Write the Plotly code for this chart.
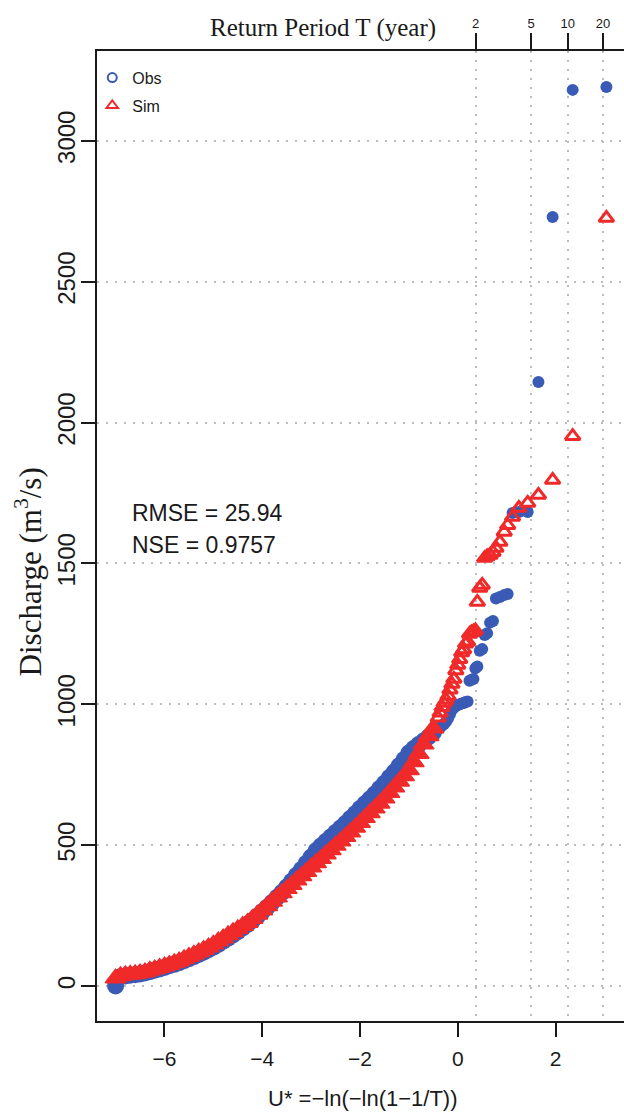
import numpy as np
import plotly.graph_objects as go

# Gumbel reduced variate U* = -ln(-ln(1-1/T)) for each ranked discharge
u_star = [
    -7.0, -6.9, -6.8, -6.7, -6.6, -6.5, -6.4, -6.3, -6.2, -6.1,
    -6.0, -5.9, -5.8, -5.7, -5.6, -5.5, -5.4, -5.3, -5.2, -5.1,
    -5.0, -4.9, -4.8, -4.7, -4.6, -4.5, -4.4, -4.3, -4.2, -4.1,
    -4.0, -3.9, -3.8, -3.7, -3.6, -3.5, -3.4, -3.3, -3.2, -3.1,
    -3.0, -2.9, -2.8, -2.7, -2.6, -2.5, -2.4, -2.3, -2.2, -2.1,
    -2.0, -1.9, -1.8, -1.7, -1.6, -1.5, -1.4, -1.3, -1.2, -1.1,
    -1.0, -0.9, -0.8, -0.7, -0.6, -0.5,
    -0.40, -0.36, -0.32, -0.28, -0.24, -0.20, -0.16, -0.12, -0.08, -0.04,
    0.00, 0.04, 0.08, 0.12, 0.16, 0.20, 0.24, 0.28, 0.32, 0.36, 0.40,
    0.45, 0.50, 0.55, 0.60, 0.66, 0.72, 0.78, 0.86, 0.95, 1.02,
    1.12, 1.25, 1.43, 1.65, 1.94, 2.35, 3.04,
]

# Observed discharge (m3/s)
q_obs = [
    0, 33, 36, 38, 40, 43, 46, 51, 56, 61,
    66, 72, 77, 83, 90, 97, 104, 112, 120, 129,
    138, 148, 159, 170, 181, 193, 206, 219, 233, 248,
    264, 280, 297, 314, 332, 352, 372, 393, 414, 436,
    458, 480, 497, 513, 529, 545, 561, 577, 595, 612,
    630, 647, 664, 682, 701, 720, 740, 760, 782, 804,
    827, 843, 857, 870, 884, 900,
    912, 918, 925, 930, 938, 950, 965, 980, 988, 994,
    998, 1000, 1003, 1005, 1008, 1010, 1084, 1087, 1090, 1128, 1134,
    1190, 1196, 1246, 1252, 1290, 1296, 1376, 1381, 1388, 1392,
    1679, 1683, 1683, 2144, 2730, 3181, 3191,
]

# Simulated discharge (m3/s)
q_sim = [
    28, 36, 39, 41, 43, 46, 49, 55, 60, 65,
    70, 76, 82, 88, 96, 104, 112, 120, 129, 138,
    148, 159, 170, 181, 192, 203, 214, 225, 239, 254,
    269, 284, 300, 315, 330, 345, 360, 376, 391, 406,
    422, 437, 452, 468, 483, 499, 514, 530, 546, 563,
    580, 597, 614, 631, 648, 667, 686, 706, 726, 746,
    767, 795, 825, 858, 888, 915,
    952, 970, 990, 1005, 1015, 1030, 1052, 1072, 1090, 1120,
    1140, 1160, 1184, 1195, 1215, 1222, 1250, 1255, 1258, 1262, 1363,
    1413, 1424, 1519, 1525, 1530, 1540, 1555, 1576, 1612, 1636,
    1665, 1697, 1715, 1743, 1796, 1952, 2726,
]

return_periods = [2, 5, 10, 20]
return_labels = ["2", "5", "10", "20"]
x_ticks = [-6, -4, -2, 0, 2]
y_ticks = [0, 500, 1000, 1500, 2000, 2500, 3000]

stats_lines = ["RMSE = 25.94", "NSE = 0.9757"]

BLUE = "#3A5BB5"
RED = "#F02A2A"
INK = "#1a1a1a"
GRID = "#bdbdbd"
SANS = "Liberation Sans, Arial, sans-serif"
SERIF = "Liberation Serif, Times New Roman, serif"

u_arr = np.array(u_star)
u_return = [float(-np.log(-np.log(1 - 1 / t))) for t in return_periods]
x_range = [-7.38, 3.40]
y_range = [-124, 3319]

# the bulk of the record overlaps into a thick solid band; the sparse tail keeps
# smaller, hollow triangles
dense = u_arr <= -0.5
obs_size = np.where(dense, 17, 12).tolist()
sim_size = np.where(dense, 18, 13).tolist()
sim_symbol = np.where(dense, "triangle-up", "triangle-up-open").tolist()
sim_line = np.where(dense, 1.5, 3).tolist()

fig = go.Figure()

fig.add_trace(go.Scatter(
    x=u_star, y=q_obs, mode="markers", showlegend=False,
    marker=dict(symbol="circle", size=obs_size, color=BLUE, opacity=1,
                line=dict(width=0)),
))
fig.add_trace(go.Scatter(
    x=u_star, y=q_sim, mode="markers", showlegend=False,
    marker=dict(symbol=sim_symbol, size=sim_size, color=RED, opacity=1,
                line=dict(width=sim_line, color=RED)),
))

# return-period axis on top
fig.add_trace(go.Scatter(
    x=u_return, y=[None] * len(u_return), xaxis="x2", mode="markers",
    showlegend=False, hoverinfo="skip",
))

# legend entries (open symbols)
fig.add_trace(go.Scatter(
    x=[None], y=[None], mode="markers", name="Obs", legendgroup="obs",
    marker=dict(symbol="circle-open", size=9, color=BLUE, line=dict(width=2, color=BLUE)),
))
fig.add_trace(go.Scatter(
    x=[None], y=[None], mode="markers", name="Sim", legendgroup="sim",
    marker=dict(symbol="triangle-up-open", size=10, color=RED, line=dict(width=2, color=RED)),
))

annotations = [
    dict(text="Return Period T (year)", xref="paper", yref="paper",
         x=0.428, y=1.0237, xanchor="center", yanchor="middle", showarrow=False,
         font=dict(family=SERIF, size=25, color=INK)),
    dict(text="U* =\u2212ln(\u2212ln(1\u22121/T))", xref="paper", yref="paper",
         x=0.505, y=-0.0794, xanchor="center", yanchor="middle", showarrow=False,
         font=dict(family=SANS, size=22, color=INK)),
    dict(text="Discharge (m<sup>3</sup>/s)", xref="paper", yref="paper",
         x=-0.13, y=0.463, xanchor="center", yanchor="middle", showarrow=False,
         textangle=-90, font=dict(family=SERIF, size=31, color=INK)),
]
for i, line in enumerate(stats_lines):
    annotations.append(dict(
        text=line, xref="paper", yref="paper", x=0.063, y=0.5237 - i * 0.033,
        xanchor="left", yanchor="middle", showarrow=False,
        font=dict(family=SANS, size=23, color=INK)))

grid_dash = "2px,7px"

fig.update_layout(
    width=624, height=1113,
    margin=dict(l=97, r=0, t=51, b=92),
    paper_bgcolor="white", plot_bgcolor="white",
    showlegend=True,
    legend=dict(x=-0.009, y=0.99, xanchor="left", yanchor="top",
                bgcolor="rgba(0,0,0,0)", font=dict(family=SANS, size=16, color=INK),
                tracegroupgap=4, itemwidth=30),
    xaxis=dict(
        range=x_range, tickvals=x_ticks, ticks="outside", ticklen=14, tickwidth=2,
        tickcolor=INK, showline=True, linewidth=2, linecolor=INK,
        showgrid=False, zeroline=False, ticklabelstandoff=4,
        tickfont=dict(family=SANS, size=21, color=INK),
    ),
    xaxis2=dict(
        overlaying="x", side="top", anchor="y", range=x_range,
        tickvals=u_return, ticktext=return_labels, ticks="outside", ticklen=16,
        tickwidth=2, tickcolor=INK, showline=True, linewidth=2, linecolor=INK,
        showgrid=True, griddash=grid_dash, gridcolor=GRID, gridwidth=1.5, zeroline=False,
        tickfont=dict(family=SANS, size=13, color=INK),
    ),
    yaxis=dict(
        range=y_range, tickvals=y_ticks, tickangle=-90, ticks="outside", ticklen=14,
        tickwidth=2, tickcolor=INK, showline=True, linewidth=2, linecolor=INK,
        showgrid=True, griddash=grid_dash, gridcolor=GRID, gridwidth=1.5, zeroline=False,
        ticklabelstandoff=-4,
        tickfont=dict(family=SANS, size=24, color=INK),
    ),
    annotations=annotations,
)

fig.write_html("out.html")
